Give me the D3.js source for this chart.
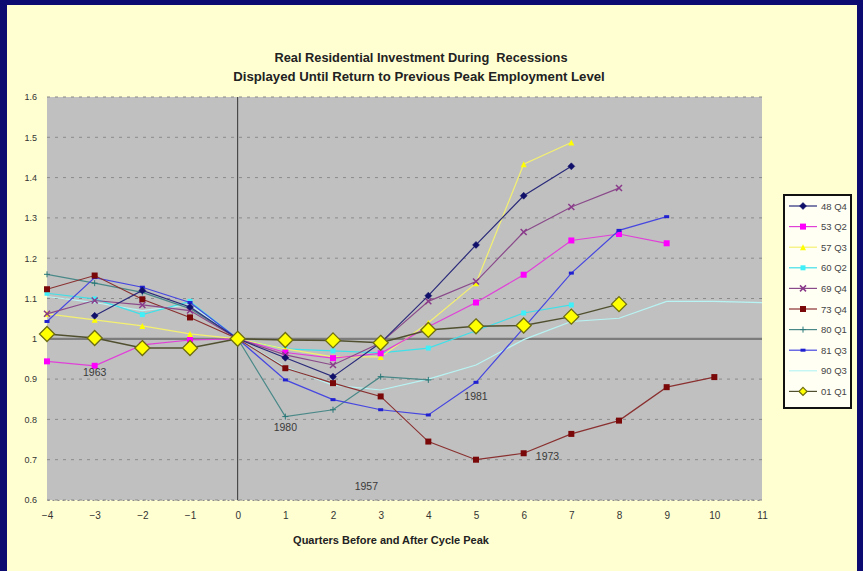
<!DOCTYPE html>
<html>
<head>
<meta charset="utf-8">
<script src="https://cdn.jsdelivr.net/npm/d3@7"></script>
<style>
  html, body { margin: 0; padding: 0; background: #0b0b72; }
  svg { display: block; }
  text { white-space: pre; }
</style>
</head>
<body>
<svg id="chart" width="863" height="571"></svg>
<script>
// ---- data ----
const quarters = [-4, -3, -2, -1, 0, 1, 2, 3, 4, 5, 6, 7, 8, 9, 10, 11];
const xTicks = [-4, -3, -2, -1, 0, 1, 2, 3, 4, 5, 6, 7, 8, 9, 10, 11];
const yTicks = [0.6, 0.7, 0.8, 0.9, 1.0, 1.1, 1.2, 1.3, 1.4, 1.5, 1.6];
const yTickLabels = ["0.6", "0.7", "0.8", "0.9", "1", "1.1", "1.2", "1.3", "1.4", "1.5", "1.6"];
const seriesNames = ["48 Q4", "53 Q2", "57 Q3", "60 Q2", "69 Q4", "73 Q4", "80 Q1", "81 Q3", "90 Q3", "01 Q1"];
const s48Q4 = [null, 1.057, 1.120, 1.079, 1.0, 0.953, 0.906, 0.990, 1.107, 1.233, 1.355, 1.428, null, null, null, null];
const s53Q2 = [0.944, 0.933, 0.985, 0.997, 1.0, 0.966, 0.952, 0.964, 1.030, 1.090, 1.159, 1.244, 1.260, 1.237, null, null];
const s57Q3 = [1.062, 1.047, 1.032, 1.012, 1.0, 0.975, 0.955, 0.955, 1.040, 1.138, 1.433, 1.487, null, null, null, null];
const s60Q2 = [1.113, 1.099, 1.060, 1.093, 1.0, 0.975, 0.970, 0.965, 0.977, 1.020, 1.064, 1.084, null, null, null, null];
const s69Q4 = [1.062, 1.095, 1.084, 1.070, 1.0, 0.960, 0.935, 0.990, 1.093, 1.142, 1.265, 1.327, 1.374, null, null, null];
const s73Q4 = [1.123, 1.157, 1.098, 1.053, 1.0, 0.927, 0.890, 0.857, 0.745, 0.700, 0.716, 0.764, 0.797, 0.880, 0.905, null];
const s80Q1 = [1.160, 1.138, 1.115, 1.075, 1.0, 0.807, 0.824, 0.906, 0.898, null, null, null, null, null, null, null];
const s81Q3 = [1.043, 1.152, 1.128, 1.090, 1.0, 0.898, 0.849, 0.824, 0.811, 0.892, 1.027, 1.163, 1.269, 1.303, null, null];
const s90Q3 = [1.105, 1.090, 1.070, 1.085, 1.0, 0.930, 0.885, 0.873, 0.900, 0.935, 0.998, 1.043, 1.051, 1.093, 1.093, 1.090];
const s01Q1 = [1.012, 1.002, 0.977, 0.977, 1.0, 0.997, 0.996, 0.990, 1.022, 1.031, 1.033, 1.055, 1.086, null, null, null];
const annotationLabels = ["1963", "1980", "1981", "1973", "1957"];
const annotationX = [-3, 1, 5, 6.5, 2.7];
const annotationY = [0.907, 0.772, 0.849, 0.700, 0.626];

// ---- styles (not data) ----
const styles = [
  {line: "#2a2a7a", fill: "#10106a", marker: "diamond", size: 7},
  {line: "#e040d8", fill: "#ff00ff", marker: "square", size: 6},
  {line: "#f4f070", fill: "#ffff00", marker: "triangle", size: 6},
  {line: "#40e0e8", fill: "#40f0f8", marker: "square", size: 5},
  {line: "#8a4a8a", fill: "#8a3a8a", marker: "x", size: 6},
  {line: "#8a3030", fill: "#7a0808", marker: "square", size: 6},
  {line: "#4a8888", fill: "#2a7878", marker: "plus", size: 6},
  {line: "#4646e0", fill: "#2020d0", marker: "dash", size: 5},
  {line: "#b8f4f4", fill: "#c8f8f8", marker: "none", size: 0},
  {line: "#505030", fill: "#ffff00", marker: "bigdiamond", size: 15}
];
const seriesData = [s48Q4, s53Q2, s57Q3, s60Q2, s69Q4, s73Q4, s80Q1, s81Q3, s90Q3, s01Q1];

const svg = d3.select("#chart");
const W = 863, H = 571;
const FONT = "'Liberation Sans', Arial, sans-serif";

// frame
svg.append("rect").attr("x", 0).attr("y", 0).attr("width", W).attr("height", H).attr("fill", "#0b0b72");
svg.append("rect").attr("x", 7).attr("y", 5).attr("width", 850).attr("height", H - 5).attr("fill", "#ffffd2");

const x = d3.scaleLinear().domain([-4, 11]).range([47, 762]);
const y = d3.scaleLinear().domain([0.6, 1.6]).range([500, 97]);

// plot area
svg.append("rect").attr("x", x(-4)).attr("y", y(1.6)).attr("width", x(11) - x(-4)).attr("height", y(0.6) - y(1.6)).attr("fill", "#c0c0c0");

// gridlines
svg.append("g").selectAll("line").data(yTicks.filter(v => v !== 1.0)).join("line")
  .attr("x1", x(-4)).attr("x2", x(11))
  .attr("y1", d => y(d)).attr("y2", d => y(d))
  .attr("stroke", "#8a8a8a").attr("stroke-width", 1).attr("stroke-dasharray", "3,5");

// reference line at 1.0
svg.append("line").attr("x1", x(-4)).attr("x2", x(11)).attr("y1", y(1.0)).attr("y2", y(1.0))
  .attr("stroke", "#7c7c7c").attr("stroke-width", 2.2);

// vertical line at 0
svg.append("line").attr("x1", x(0)).attr("x2", x(0)).attr("y1", y(1.6)).attr("y2", y(0.6))
  .attr("stroke", "#333").attr("stroke-width", 1);

// axes
const xAxis = d3.axisBottom(x).tickValues(xTicks).tickSize(0).tickPadding(12).tickFormat(d3.format("d"));
const gx = svg.append("g").attr("transform", `translate(0,${y(0.6)})`).call(xAxis);
gx.select(".domain").attr("stroke", "#8a8a8a").attr("stroke-dasharray", "2,3");
gx.selectAll("text").attr("font-family", FONT).attr("font-size", 10).attr("fill", "#333");

const yAxis = d3.axisLeft(y).tickValues(yTicks).tickSize(0).tickPadding(10)
  .tickFormat((d, i) => yTickLabels[i]);
const gy = svg.append("g").attr("transform", `translate(${x(-4)},0)`).call(yAxis);
gy.select(".domain").remove();
gy.selectAll("text").attr("font-family", FONT).attr("font-size", 9).attr("fill", "#333");

// lines
const lineGen = d3.line().defined(d => d.v !== null).x(d => x(d.q)).y(d => y(d.v));

function drawMarker(g, type, cx, cy, s, st) {
  if (type === "diamond" || type === "bigdiamond") {
    const h = s / 2;
    g.append("path").attr("d", `M${cx},${cy - h}L${cx + h},${cy}L${cx},${cy + h}L${cx - h},${cy}Z`)
      .attr("fill", st.fill).attr("stroke", type === "bigdiamond" ? "#6e6e10" : st.fill).attr("stroke-width", type === "bigdiamond" ? 1.3 : 0.5);
  } else if (type === "square") {
    g.append("rect").attr("x", cx - s / 2).attr("y", cy - s / 2).attr("width", s).attr("height", s).attr("fill", st.fill);
  } else if (type === "triangle") {
    const h = s / 2;
    g.append("path").attr("d", `M${cx},${cy - h}L${cx + h},${cy + h}L${cx - h},${cy + h}Z`).attr("fill", st.fill);
  } else if (type === "x") {
    const h = s / 2;
    g.append("path").attr("d", `M${cx - h},${cy - h}L${cx + h},${cy + h}M${cx - h},${cy + h}L${cx + h},${cy - h}`)
      .attr("stroke", st.fill).attr("stroke-width", 1.5);
  } else if (type === "plus") {
    const h = s / 2;
    g.append("path").attr("d", `M${cx - h},${cy}L${cx + h},${cy}M${cx},${cy - h}L${cx},${cy + h}`)
      .attr("stroke", st.fill).attr("stroke-width", 1);
  } else if (type === "dash") {
    g.append("rect").attr("x", cx - s / 2).attr("y", cy - 1.5).attr("width", s).attr("height", 3).attr("fill", st.fill);
  }
}

// draw order: light series first, 01 Q1 on top
const order = [8, 3, 2, 1, 6, 7, 5, 4, 0, 9];
order.forEach(i => {
  const st = styles[i];
  const pts = quarters.map((q, k) => ({q: q, v: seriesData[i][k]}));
  const g = svg.append("g");
  g.append("path").datum(pts).attr("d", lineGen).attr("fill", "none")
    .attr("stroke", st.line).attr("stroke-width", i === 9 ? 1.5 : 1.2);
  pts.filter(d => d.v !== null).forEach(d => drawMarker(g, st.marker, x(d.q), y(d.v), st.size, st));
});

// annotations
svg.append("g").selectAll("text").data(annotationLabels).join("text")
  .attr("x", (d, i) => x(annotationX[i])).attr("y", (d, i) => y(annotationY[i]))
  .attr("text-anchor", "middle").attr("font-family", FONT).attr("font-size", 10.5).attr("fill", "#3a3a3a")
  .text(d => d);

// titles
svg.append("text").attr("x", 421).attr("y", 62).attr("text-anchor", "middle")
  .attr("font-family", FONT).attr("font-weight", "bold").attr("font-size", 12.8).attr("fill", "#222")
  .text("Real Residential Investment During  Recessions");
svg.append("text").attr("x", 419).attr("y", 81).attr("text-anchor", "middle")
  .attr("font-family", FONT).attr("font-weight", "bold").attr("font-size", 13.2).attr("fill", "#222")
  .text("Displayed Until Return to Previous Peak Employment Level");
svg.append("text").attr("x", 391).attr("y", 544).attr("text-anchor", "middle")
  .attr("font-family", FONT).attr("font-weight", "bold").attr("font-size", 11).attr("fill", "#222")
  .text("Quarters Before and After Cycle Peak");

// legend
const lg = svg.append("g");
lg.append("rect").attr("x", 784).attr("y", 195).attr("width", 67).attr("height", 213)
  .attr("fill", "#fffff4").attr("stroke", "#111").attr("stroke-width", 2);
seriesNames.forEach((name, i) => {
  const ly = 206 + i * 20.6;
  const st = styles[i];
  lg.append("line").attr("x1", 789).attr("x2", 817).attr("y1", ly).attr("y2", ly)
    .attr("stroke", st.line).attr("stroke-width", 1.2);
  drawMarker(lg, st.marker, 803, ly, st.marker === "bigdiamond" ? 8 : st.size, st);
  lg.append("text").attr("x", 821).attr("y", ly + 3.5).attr("font-family", FONT).attr("font-size", 9.5)
    .attr("fill", "#444").text(name);
});
</script>
</body>
</html>
